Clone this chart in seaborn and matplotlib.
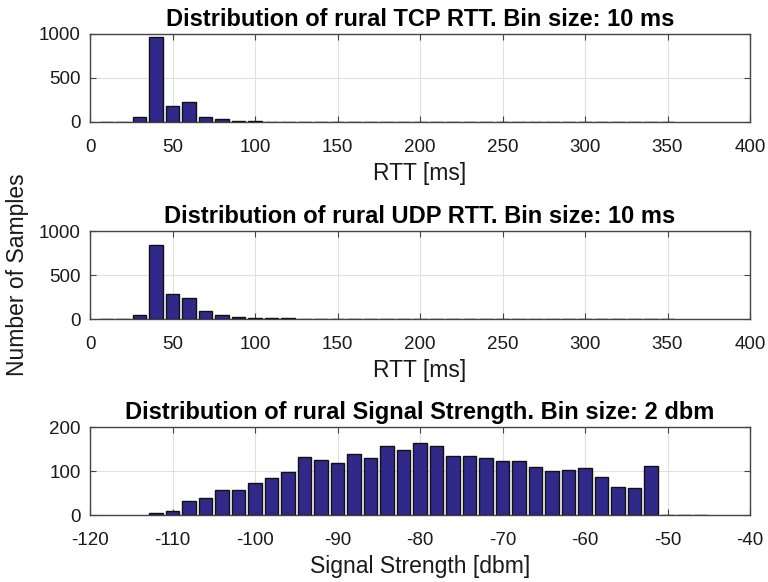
import numpy as np
import pandas as pd
import matplotlib
matplotlib.use("Agg")
import matplotlib.pyplot as plt
import seaborn as sns

# ---- data ----
rtt_centers = list(range(10, 351, 10))
tcp_counts = [0, 1, 62, 968, 182, 228, 54, 31, 10, 6, 4, 3, 3, 3, 3, 2, 2, 2, 2, 2,
              2, 2, 2, 2, 2, 2, 2, 2, 2, 2, 2, 2, 2, 2, 2]
udp_counts = [3, 4, 41, 838, 286, 244, 86, 41, 20, 12, 8, 6, 5, 5, 4, 4, 4, 4, 4, 4,
              4, 4, 4, 4, 4, 4, 4, 4, 4, 4, 4, 4, 4, 4, 3]
sig_centers = list(range(-112, -45, 2))
sig_counts = [5, 9, 32, 39, 56, 56, 73, 85, 97, 131, 124, 119, 139, 129, 157, 147,
              164, 157, 135, 135, 129, 123, 122, 110, 101, 102, 107, 87, 64, 61, 112,
              1, 1, 1]

titles = ["Distribution of rural TCP RTT. Bin size: 10 ms",
          "Distribution of rural UDP RTT. Bin size: 10 ms",
          "Distribution of rural Signal Strength. Bin size: 2 dbm"]
xlabels = ["RTT [ms]", "RTT [ms]", "Signal Strength [dbm]"]

sns.set_theme(style="white")
plt.rcParams['font.family'] = ['Liberation Sans', 'DejaVu Sans']

bar_color = "#31298A"
fig = plt.figure(figsize=(7.68, 5.82), dpi=100)
W = 768.0
H = 582.0
boxes = [(90, 34, 750, 122), (90, 231, 750, 319), (90, 427, 750, 515)]
axes = []
for (l, t, r, b) in boxes:
    axes.append(fig.add_axes([l / W, 1 - b / H, (r - l) / W, (b - t) / H]))

datasets = [
    (rtt_centers, tcp_counts, 10, (5, 355), (0, 400), np.arange(0, 401, 50), (0, 1000), [0, 500, 1000]),
    (rtt_centers, udp_counts, 10, (5, 355), (0, 400), np.arange(0, 401, 50), (0, 1000), [0, 500, 1000]),
    (sig_centers, sig_counts, 2, (-113, -45), (-120, -40), np.arange(-120, -39, 10), (0, 200), [0, 100, 200]),
]

for ax, (cx, cy, bw, br, xl, xt, yl, yt), title, xlab in zip(axes, datasets, titles, xlabels):
    df = pd.DataFrame({"x": cx, "w": cy})
    sns.histplot(data=df, x="x", weights="w", binwidth=bw, binrange=br, shrink=0.8,
                 color=bar_color, edgecolor="#111111", linewidth=1.0, alpha=1.0, ax=ax, zorder=3)
    ax.set_xlim(*xl)
    ax.set_ylim(*yl)
    ax.set_xticks(xt)
    ax.set_xticklabels([str(int(v)) for v in xt])
    ax.set_yticks(yt)
    ax.set_title(title, fontsize=17, fontweight="bold", pad=6, color="black")
    ax.set_xlabel(xlab, fontsize=16.5, labelpad=4, color="#1a1a1a")
    ax.set_ylabel("")
    ax.grid(True, color="#e0e0e0", linewidth=0.8, zorder=0)
    ax.set_axisbelow(True)
    for s in ax.spines.values():
        s.set_visible(True)
        s.set_color("#444444")
        s.set_linewidth(1.0)
    ax.tick_params(axis="both", direction="in", length=4, width=0.8, color="#444444",
                   labelsize=13.5, labelcolor="#1a1a1a", top=True, right=True,
                   bottom=True, left=True)
    ax.tick_params(axis="x", pad=12.5)
    ax.tick_params(axis="y", pad=6.5)

fig.text(18 / W, 1 - 275 / H, "Number of Samples", rotation=90, fontsize=16.5,
         ha="center", va="center", color="#1a1a1a")

fig.savefig("out.png", dpi=100, facecolor="white")
